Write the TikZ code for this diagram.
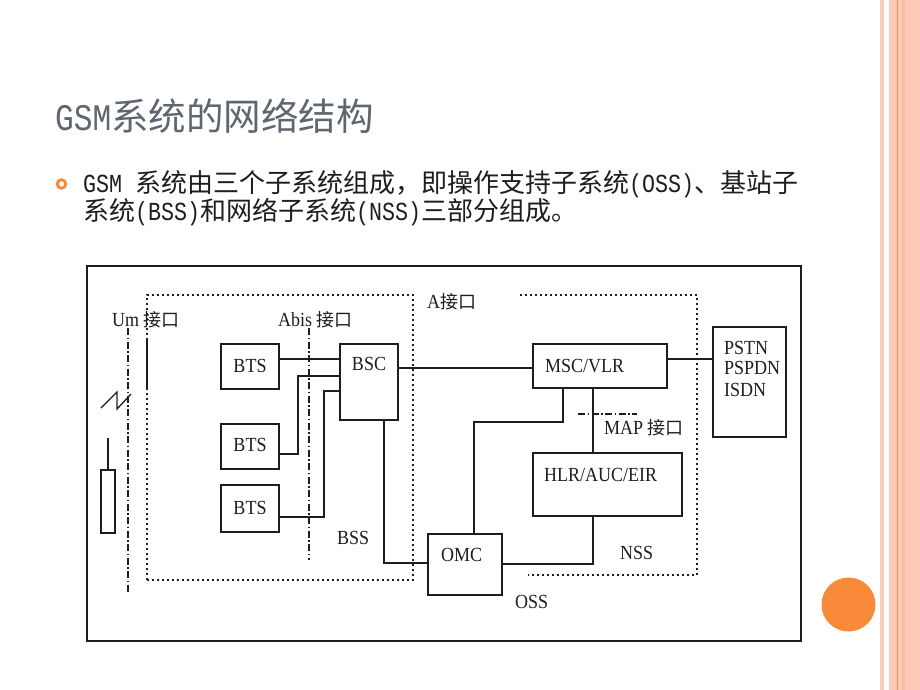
\documentclass[tikz,border=0pt]{standalone}
\usepackage{fontspec}
\newfontfamily\zhf{Noto Sans CJK SC}
\newfontfamily\enf[FakeStretch=0.8333]{Liberation Mono}
\newfontfamily\dgf[FakeStretch=0.9]{Liberation Serif}
\definecolor{ink}{HTML}{1E1E1E}
\definecolor{titlegrey}{HTML}{5E6670}
\definecolor{stripeA}{HTML}{FCCAB5}
\definecolor{stripeB}{HTML}{FABBA0}
\definecolor{stripeline}{HTML}{E98E5A}
\definecolor{dotorange}{HTML}{F98A3A}
\newcommand\jiekou{{\zhf\fontsize{18}{20}\selectfont 接口}}
\begin{document}
\begin{tikzpicture}[x=1pt,y=-1pt,
  box/.style={draw=ink, line width=1.6pt, inner sep=0pt},
  conn/.style={draw=ink, line width=1.6pt},
  bound/.style={draw=ink, line width=1.5pt, dash pattern=on 1.6pt off 3.4pt},
  iface/.style={draw=ink, line width=1.6pt, dash pattern=on 7pt off 2.5pt on 1.5pt off 2.5pt},
  lbl/.style={inner sep=0pt, anchor=west, font=\dgf\fontsize{20}{22}\selectfont, text=ink},
  lblc/.style={lbl, anchor=center}]
\useasboundingbox (0,0) rectangle (920,690);
\fill[white] (0,0) rectangle (920,690);
% right decoration
\fill[stripeA] (880,0) rectangle (884,690);
\fill[stripeA] (889,0) rectangle (920,690);
\fill[stripeB] (902,0) rectangle (905,690);
\draw[stripeline, line width=1pt] (897,0) -- (897,690);
\fill[dotorange] (848.5,604.5) circle (27);
% title and text
\node[inner sep=0pt, anchor=west, text=titlegrey, font=\fontsize{37.5}{40}\selectfont] (title) at (55,116)
  {{\enf GSM}{\zhf 系统的网络结构}};
\draw[dotorange, line width=2.8pt] (61.5,184) circle (4.3);
\node[inner sep=0pt, anchor=west, text=ink, font=\fontsize{26}{30}\selectfont] (l1) at (83,184)
  {{\enf GSM }{\zhf 系统由三个子系统组成，即操作支持子系统}{\enf (OSS)}{\zhf 、基站子}};
\node[inner sep=0pt, anchor=west, text=ink, font=\fontsize{26}{30}\selectfont] (l2) at (83,212)
  {{\zhf 系统}{\enf (BSS)}{\zhf 和网络子系统}{\enf (NSS)}{\zhf 三部分组成。}};
% outer frame
\node[box, minimum width=714pt, minimum height=375pt] (frame) at (444,453.5) {};
% subsystem boundaries
\draw[bound] (147,580) -- (147,295) -- (413,295) -- (413,580) -- cycle;
\draw[bound] (520,295) -- (697,295) -- (697,575) -- (528,575);
\draw[conn] (147,340) -- (147,390);
% interfaces
\coordinate (umtop) at (128,328);
\coordinate (umbot) at (128,593);
\draw[iface] (umtop) -- (umbot);
\coordinate (abtop) at (309,328);
\coordinate (abbot) at (309,560);
\draw[iface] (abtop) -- (abbot);
\coordinate (mapl) at (578,414);
\coordinate (mapr) at (637,414);
\draw[iface] (mapl) -- (mapr);
% boxes
\node[box, minimum width=58pt, minimum height=45pt] (bts1) at (250,366.5) {};
\node[box, minimum width=58pt, minimum height=45pt] (bts2) at (250,446.5) {};
\node[box, minimum width=58pt, minimum height=47pt] (bts3) at (250,508.5) {};
\node[box, minimum width=58pt, minimum height=76pt] (bsc) at (369,382) {};
\node[box, minimum width=134pt, minimum height=44pt] (msc) at (600,366) {};
\node[box, minimum width=73pt, minimum height=110pt] (pstn) at (749.5,382) {};
\node[box, minimum width=149pt, minimum height=63pt] (hlr) at (607.5,484.5) {};
\node[box, minimum width=74pt, minimum height=61pt] (omc) at (465,564.5) {};
\node[box, line width=1.3pt, minimum width=14pt, minimum height=63pt] (ant) at (108,501.5) {};
% helper coordinates
\coordinate (y359) at (0,359);
\coordinate (y368) at (0,368);
\coordinate (y376) at (0,376);
\coordinate (y391) at (0,391);
\coordinate (y454) at (0,454);
\coordinate (y517) at (0,517);
\coordinate (y563) at (0,563);
\coordinate (y564) at (0,564);
\coordinate (x384) at (384,0);
\coordinate (x474) at (474,0);
\coordinate (x563) at (563,0);
\coordinate (x593) at (593,0);
\coordinate (b2) at (298,376);
\coordinate (b3) at (324,391);
\coordinate (m1) at (563,422);
\coordinate (m2) at (474,422);
\coordinate (h1) at (593,564);
\coordinate (o1) at (384,563);
\coordinate (anttop) at (108,438);
% connectors
\draw[conn] (bts1.east |- y359) -- (bsc.west |- y359);
\draw[conn] (bts2.east |- y454) -| (b2) -- (bsc.west |- y376);
\draw[conn] (bts3.east |- y517) -| (b3) -- (bsc.west |- y391);
\draw[conn] (bsc.east |- y368) -- (msc.west |- y368);
\draw[conn] (msc.east |- y359) -- (pstn.west |- y359);
\draw[conn] (msc.south -| x563) -- (m1) -- (m2) -- (omc.north -| x474);
\draw[conn] (msc.south -| x593) -- (hlr.north -| x593);
\draw[conn] (hlr.south -| x593) -- (h1) -- (omc.east |- y564);
\draw[conn] (bsc.south -| x384) -- (o1) -- (omc.west |- y563);
\draw[conn, line width=1.3pt] (anttop) -- (ant.north);
\draw[conn, line width=1.3pt] (101,408) -- (117,392) -- (117,409) -- (131,394);
% labels
\node[lblc] (tbts1) at (250,366) {BTS};
\node[lblc] (tbts2) at (250,445) {BTS};
\node[lblc] (tbts3) at (250,508) {BTS};
\node[lblc] (tbsc) at (369,364) {BSC};
\node[lbl] (tmsc) at (545,366) {MSC/VLR};
\node[lbl] (thlr) at (544,475) {HLR/AUC/EIR};
\node[lbl] (tomc) at (441,555) {OMC};
\node[lbl] (tpstn) at (724,348) {PSTN};
\node[lbl] (tpspdn) at (724,368) {PSPDN};
\node[lbl] (tisdn) at (724,390) {ISDN};
\node[lbl] (tum) at (112,320) {Um \jiekou};
\node[lbl] (tabis) at (278,320) {Abis \jiekou};
\node[lbl] (ta) at (427,302) {A\jiekou};
\node[lbl] (tmap) at (604,428) {MAP \jiekou};
\node[lbl] (tbss) at (337,538) {BSS};
\node[lbl] (tnss) at (620,553) {NSS};
\node[lbl] (toss) at (515,602) {OSS};
\end{tikzpicture}
\end{document}
